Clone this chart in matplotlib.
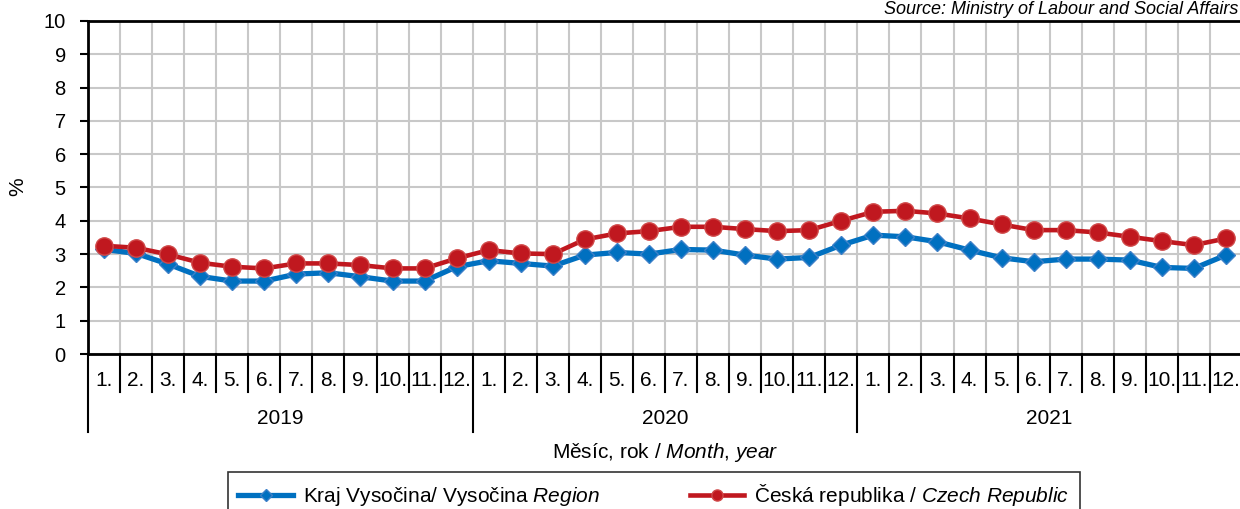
import matplotlib
matplotlib.use("Agg")
import matplotlib.pyplot as plt
from matplotlib.lines import Line2D
import matplotlib.transforms as mtransforms

plt.rcParams['font.family'] = ['Liberation Sans', 'DejaVu Sans']
plt.rcParams['mathtext.fontset'] = 'custom'
plt.rcParams['mathtext.rm'] = 'Liberation Sans'
plt.rcParams['mathtext.it'] = 'Liberation Sans:italic'

years = ["2019", "2020", "2021"]
months = ["1.", "2.", "3.", "4.", "5.", "6.", "7.", "8.", "9.", "10.", "11.", "12."]

vysocina = [3.14, 3.02, 2.70, 2.33, 2.19, 2.19, 2.40, 2.44, 2.32, 2.19, 2.19, 2.62,
            2.80, 2.72, 2.64, 2.97, 3.05, 3.00, 3.14, 3.12, 2.97, 2.85, 2.90, 3.27,
            3.57, 3.52, 3.37, 3.12, 2.89, 2.77, 2.85, 2.85, 2.82, 2.60, 2.57, 2.97]
czech = [3.25, 3.19, 2.99, 2.74, 2.62, 2.57, 2.72, 2.72, 2.67, 2.57, 2.57, 2.87,
         3.12, 3.02, 3.00, 3.44, 3.62, 3.69, 3.82, 3.82, 3.75, 3.69, 3.72, 4.00,
         4.27, 4.30, 4.22, 4.07, 3.89, 3.72, 3.72, 3.65, 3.52, 3.39, 3.27, 3.47]

label_v = "Kraj Vysočina/ Vysočina $\\it{Region}$"
label_c = "Česká republika / $\\it{Czech\\ Republic}$"

W, H = 1240, 509
FS = 15
fig = plt.figure(figsize=(W / 100, H / 100), dpi=100)
left, right, bottom, top = 88, 1242, 354, 21
ax = fig.add_axes([left / W, (H - bottom) / H, (right - left) / W, (bottom - top) / H])

n = len(vysocina)
x = list(range(n))
blue = "#0070C0"
red = "#C0181F"
ax.plot(x, vysocina, color=blue, lw=3.8, marker="D", ms=8.8, mfc=blue, mec="#3C80C8", mew=1.0, zorder=3, clip_on=False)
ax.plot(x, czech, color=red, lw=3.3, marker="o", ms=12.5, mfc=red, mec="#D04848", mew=1.0, zorder=4, clip_on=False)

ax.set_xlim(-0.5, n - 0.5)
ax.set_ylim(0, 10)
ax.set_yticks(range(0, 11))
ax.tick_params(axis="y", direction="out", length=6, width=1.5, labelsize=14.5, pad=10, colors="black")
ax.set_xticks([i + 0.5 for i in range(n)])
ax.tick_params(axis="x", length=0, labelbottom=False)
ax.grid(True, color="#C8C8C8", lw=1.5)
ax.set_axisbelow(True)
for s in ["left", "bottom", "top"]:
    ax.spines[s].set_linewidth(2)
    ax.spines[s].set_color("black")
ax.spines["right"].set_visible(False)

fig.text(18 / W, (H - 187) / H, "%", rotation=90, ha="center", va="center", fontsize=FS)

trans = mtransforms.blended_transform_factory(ax.transData, ax.transAxes)
ph = bottom - top
def fy(py):
    return (bottom - py) / ph

for i in range(n):
    ax.text(i, fy(381), months[i % 12], transform=trans, ha="center", va="center", fontsize=FS)
for k in range(n + 1):
    b = k - 0.5
    yend = fy(432) if k % 12 == 0 else fy(392)
    ax.plot([b, b], [0, yend], transform=trans, color="black", lw=1.5, clip_on=False)
for j, yr in enumerate(years):
    ax.text(j * 12 + 5.5, fy(419), yr, transform=trans, ha="center", va="center", fontsize=FS)

ax.text(0.5, fy(452), "Měsíc, rok / $\\it{Month{,}\\ year}$", transform=ax.transAxes,
        ha="center", va="center", fontsize=FS)

fig.text(1238 / W, (H - 9) / H, "Source: Ministry of Labour and Social Affairs",
         ha="right", va="center", fontsize=13, style="italic")

h_v = Line2D([], [], color=blue, lw=3.8, marker="D", ms=6, mfc=blue, mec="#3C80C8")
h_c = Line2D([], [], color=red, lw=3.3, marker="o", ms=8, mfc=red, mec="#D04848")
leg = fig.legend([h_v, h_c], [label_v, label_c], ncol=2, loc="upper left",
                 bbox_to_anchor=(228 / W, (H - 472) / H), borderaxespad=0, fontsize=FS,
                 frameon=True, fancybox=False, edgecolor="black", handlelength=2.6,
                 handletextpad=0.5, columnspacing=4.3, borderpad=0.5)
leg.get_frame().set_linewidth(1.2)

fig.savefig("out.png", dpi=100)
